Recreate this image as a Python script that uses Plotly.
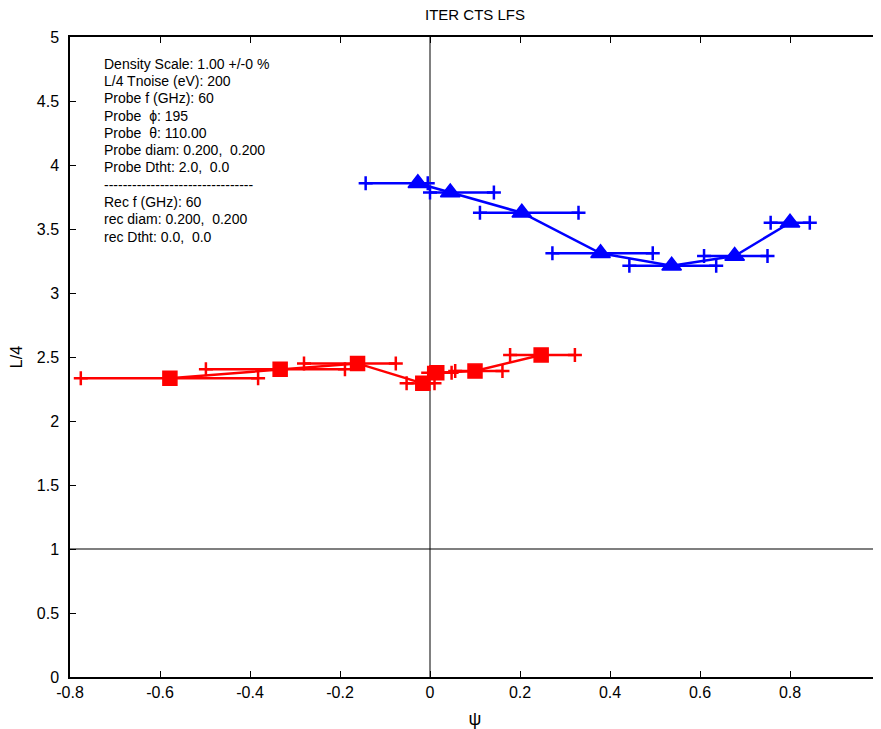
import plotly.graph_objects as go

# ---- data ----
blue_psi = [-0.027, 0.045, 0.204, 0.379, 0.537, 0.677, 0.800]
blue_L = [3.857, 3.786, 3.627, 3.31, 3.213, 3.289, 3.549]
blue_lo = [-0.143, 0.0, 0.111, 0.272, 0.443, 0.609, 0.757]
blue_hi = [-0.005, 0.142, 0.330, 0.495, 0.636, 0.750, 0.844]

red_psi = [-0.578, -0.333, -0.161, -0.016, 0.015, 0.100, 0.247]
red_L = [2.334, 2.405, 2.45, 2.294, 2.377, 2.39, 2.516]
red_lo = [-0.776, -0.498, -0.280, -0.052, -0.004, 0.056, 0.178]
red_hi = [-0.382, -0.189, -0.076, 0.010, 0.048, 0.161, 0.322]

x_ticks = [-0.8, -0.6, -0.4, -0.2, 0, 0.2, 0.4, 0.6, 0.8, 1]
x_ticktext = ["-0.8", "-0.6", "-0.4", "-0.2", "0", "0.2", "0.4", "0.6", "0.8", "1"]
y_ticks = [0, 0.5, 1, 1.5, 2, 2.5, 3, 3.5, 4, 4.5, 5]
y_ticktext = ["0", "0.5", "1", "1.5", "2", "2.5", "3", "3.5", "4", "4.5", "5"]

info_lines = [
    "Density Scale: 1.00 +/-0 %",
    "L/4 Tnoise (eV): 200",
    "Probe f (GHz): 60",
    "Probe  \u03d5: 195",
    "Probe  \u03b8: 110.00",
    "Probe diam: 0.200,  0.200",
    "Probe Dtht: 2.0,  0.0",
    "--------------------------------",
    "Rec f (GHz): 60",
    "rec diam: 0.200,  0.200",
    "rec Dtht: 0.0,  0.0",
]

FONT = "Liberation Sans, Arial, sans-serif"

# page body has an 8px margin; plot area should sit at window x 70..880, y 37..677
L_M, T_M, PW, PH = 62, 29, 810, 640


def err_segments(lo, hi, yv):
    xs, ys = [], []
    for a, b, y in zip(lo, hi, yv):
        xs += [a, b, None]
        ys += [y, y, None]
    return xs, ys


fig = go.Figure()

for lo, hi, yv, psi, col, sym, sz in [
    (blue_lo, blue_hi, blue_L, blue_psi, "#0000FF", "triangle-up", 17),
    (red_lo, red_hi, red_L, red_psi, "#FF0000", "square", 14),
]:
    ex, ey = err_segments(lo, hi, yv)
    fig.add_trace(go.Scatter(
        x=ex, y=ey, mode="lines+markers",
        line=dict(color=col, width=2.5),
        marker=dict(symbol="cross-thin", size=10, line=dict(color=col, width=2.5)),
        hoverinfo="skip", showlegend=False,
    ))
    fig.add_trace(go.Scatter(
        x=psi, y=yv, mode="lines+markers",
        line=dict(color=col, width=2.5),
        marker=dict(symbol=sym, size=sz, color=col, line=dict(color=col, width=1.5)),
        showlegend=False,
    ))

# reference lines
fig.add_shape(type="line", xref="x", yref="paper", x0=0, x1=0, y0=0, y1=1,
              line=dict(color="#808080", width=2), layer="below")
fig.add_shape(type="line", xref="paper", yref="y", x0=0, x1=1, y0=1, y1=1,
              line=dict(color="black", width=1.2), layer="below")

# info text
for i, t in enumerate(info_lines):
    fig.add_annotation(
        text=t, xref="paper", yref="paper",
        x=(102 - 70) / PW, y=1 - (64 - 37 + i * 17.25) / PH,
        xanchor="left", yanchor="middle", showarrow=False,
        font=dict(family=FONT, size=14, color="black"),
    )

fig.add_annotation(
    text="ITER CTS LFS", xref="paper", yref="paper",
    x=0.5, y=1 + 22 / PH, xanchor="center", yanchor="middle",
    showarrow=False, font=dict(family=FONT, size=15, color="black"),
)

axis_common = dict(
    showgrid=False, zeroline=False, showline=True, linecolor="black", linewidth=1.5,
    mirror="ticks", ticks="inside", ticklen=6, tickcolor="black", tickwidth=1,
    tickfont=dict(family=FONT, size=16, color="black"),
)

fig.update_xaxes(range=[-0.8, 1], tickvals=x_ticks, ticktext=x_ticktext,
                 title=dict(text="\u03c8", font=dict(family=FONT, size=18, color="black"), standoff=12),
                 **axis_common)
fig.update_yaxes(range=[0, 5], tickvals=y_ticks, ticktext=y_ticktext,
                 ticklabelstandoff=6,
                 title=dict(text="L/4", font=dict(family=FONT, size=16, color="black"), standoff=10),
                 **axis_common)

fig.update_layout(
    width=881, height=729,
    margin=dict(l=L_M, r=881 - L_M - PW, t=T_M, b=729 - T_M - PH, autoexpand=False),
    paper_bgcolor="white", plot_bgcolor="white",
    font=dict(family=FONT, color="black"),
)

fig.write_html("out.html")
